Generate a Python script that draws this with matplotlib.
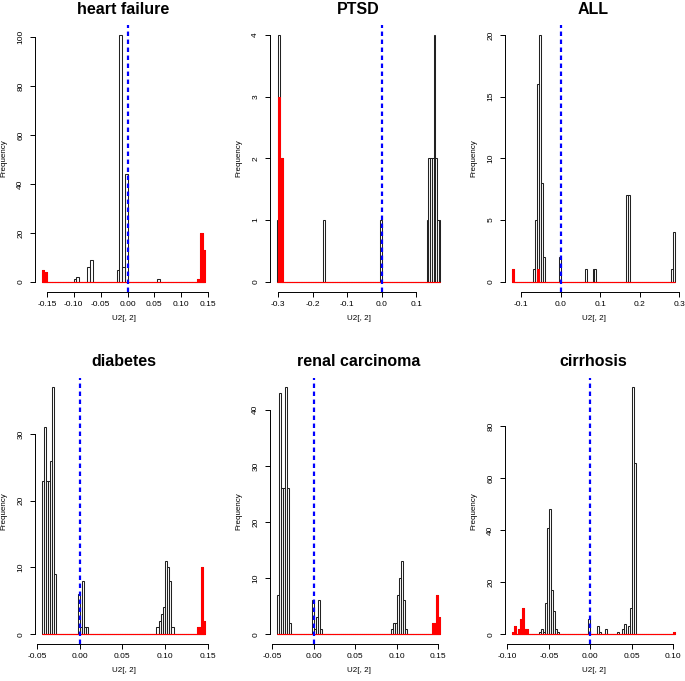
import numpy as np
import matplotlib
matplotlib.use("Agg")
import matplotlib.pyplot as plt

plt.rcParams['font.family'] = ['Liberation Sans', 'DejaVu Sans']

# ---------------- data (sparse histogram bins: left edge -> count) ----------------
titles = ["heart failure", "PTSD", "ALL", "diabetes", "renal carcinoma", "cirrhosis"]

# breaks: start, stop, width
hf_breaks = (-0.16, 0.145, 0.005)
hf_black_left = [-0.16, -0.155, -0.1, -0.095, -0.075, -0.07, -0.02, -0.015, -0.01, -0.005, 0.055, 0.13, 0.135, 0.14]
hf_black_count = [5, 4, 1, 2, 6, 9, 5, 101, 6, 44, 1, 1, 20, 13]
hf_red_left = [-0.16, -0.155, 0.13, 0.135, 0.14]
hf_red_count = [5, 4, 1, 20, 13]

ptsd_breaks = (-0.305, 0.17, 0.005)
ptsd_black_left = [-0.305, -0.3, -0.295, -0.29, -0.17, -0.005, 0.13, 0.135, 0.14, 0.145, 0.15, 0.155, 0.16, 0.165]
ptsd_black_count = [1, 4, 2, 2, 1, 1, 1, 2, 2, 2, 4, 2, 1, 1]
ptsd_red_left = [-0.3, -0.295, -0.29]
ptsd_red_count = [3, 2, 2]

all_breaks = (-0.125, 0.29, 0.005)
all_black_left = [-0.125, -0.07, -0.065, -0.06, -0.055, -0.05, -0.045, -0.005, 0.06, 0.08, 0.085, 0.165, 0.17, 0.28, 0.285]
all_black_count = [1, 1, 5, 16, 20, 8, 2, 2, 1, 1, 1, 7, 7, 1, 4]
all_red_left = [-0.125, -0.06]
all_red_count = [1, 1]

dia_breaks = (-0.045, 0.1475, 0.0025)
dia_black_left = [-0.045, -0.0425, -0.04, -0.0375, -0.035, -0.0325, -0.03,
                  -0.0025, 0.0, 0.0025, 0.005, 0.0075,
                  0.09, 0.0925, 0.095, 0.0975, 0.1, 0.1025, 0.105, 0.1075,
                  0.1375, 0.14, 0.1425, 0.145]
dia_black_count = [23, 31, 23, 23, 26, 37, 9,
                   6, 1, 8, 1, 1,
                   1, 2, 3, 4, 11, 10, 8, 1,
                   1, 1, 10, 2]
dia_red_left = [0.1375, 0.14, 0.1425, 0.145]
dia_red_count = [1, 1, 10, 2]

ren_breaks = (-0.045, 0.1525, 0.0025)
ren_black_left = [-0.045, -0.0425, -0.04, -0.0375, -0.035, -0.0325, -0.03,
                  -0.0025, 0.0, 0.0025, 0.005, 0.0075,
                  0.0925, 0.095, 0.0975, 0.1, 0.1025, 0.105, 0.1075, 0.11,
                  0.1425, 0.145, 0.1475, 0.15]
ren_black_count = [7, 43, 26, 26, 44, 26, 2,
                   6, 1, 3, 6, 1,
                   1, 2, 2, 7, 10, 13, 6, 1,
                   2, 2, 7, 3]
ren_red_left = [0.1425, 0.145, 0.1475, 0.15]
ren_red_count = [2, 2, 7, 3]

cir_breaks = (-0.095, 0.1025, 0.0025)
cir_black_left = [-0.095, -0.0925, -0.0875, -0.085, -0.0825, -0.08, -0.0775,
                  -0.0625, -0.06, -0.0575, -0.055, -0.0525, -0.05, -0.0475, -0.045, -0.0425, -0.04,
                  -0.0025, 0.0075, 0.01, 0.0175,
                  0.0325, 0.0375, 0.04, 0.045, 0.0475, 0.05, 0.0525, 0.1]
cir_black_count = [1, 3, 2, 6, 10, 2, 2,
                   1, 2, 1, 12, 41, 48, 17, 9, 2, 1,
                   6, 3, 1, 2,
                   1, 2, 4, 3, 10, 95, 66, 1]
cir_red_left = [-0.095, -0.0925, -0.0875, -0.085, -0.0825, -0.08, -0.0775, 0.1]
cir_red_count = [1, 3, 2, 6, 10, 2, 2, 1]

# axis ticks
x_ticks = [
    [-0.15, -0.10, -0.05, 0.00, 0.05, 0.10, 0.15],
    [-0.3, -0.2, -0.1, 0.0, 0.1],
    [-0.1, 0.0, 0.1, 0.2, 0.3],
    [-0.05, 0.00, 0.05, 0.10, 0.15],
    [-0.05, 0.00, 0.05, 0.10, 0.15],
    [-0.10, -0.05, 0.00, 0.05, 0.10],
]
x_labels = [
    ["-0.15", "-0.10", "-0.05", "0.00", "0.05", "0.10", "0.15"],
    ["-0.3", "-0.2", "-0.1", "0.0", "0.1"],
    ["-0.1", "0.0", "0.1", "0.2", "0.3"],
    ["-0.05", "0.00", "0.05", "0.10", "0.15"],
    ["-0.05", "0.00", "0.05", "0.10", "0.15"],
    ["-0.10", "-0.05", "0.00", "0.05", "0.10"],
]
y_ticks = [
    [0, 20, 40, 60, 80, 100],
    [0, 1, 2, 3, 4],
    [0, 5, 10, 15, 20],
    [0, 10, 20, 30],
    [0, 10, 20, 30, 40],
    [0, 20, 40, 60, 80],
]

panels = [
    (hf_breaks, hf_black_left, hf_black_count, hf_red_left, hf_red_count),
    (ptsd_breaks, ptsd_black_left, ptsd_black_count, ptsd_red_left, ptsd_red_count),
    (all_breaks, all_black_left, all_black_count, all_red_left, all_red_count),
    (dia_breaks, dia_black_left, dia_black_count, dia_red_left, dia_red_count),
    (ren_breaks, ren_black_left, ren_black_count, ren_red_left, ren_red_count),
    (cir_breaks, cir_black_left, cir_black_count, cir_red_left, cir_red_count),
]


def build(breaks, lefts, counts):
    start, stop, w = breaks
    n = int(round((stop - start) / w))
    edges = start + w * np.arange(n + 1)
    full = np.zeros(n)
    idx = np.round((np.array(lefts) - start) / w).astype(int)
    full[idx] = counts
    return edges, full


W, H = 685, 681
fig = plt.figure(figsize=(W / 100, H / 100), dpi=100)

col_x = [35, 270, 505]
row_y = [(25, 291.6), (377.5, 644.0)]
aw = 177

for i, (br, bl, bc, rl, rc) in enumerate(panels):
    r, c = divmod(i, 3)
    y0, y1 = row_y[r]
    ax = fig.add_axes([col_x[c] / W, 1 - y1 / H, aw / W, (y1 - y0) / H])
    edges, black = build(br, bl, bc)
    _, red = build(br, rl, rc)
    w = br[2]
    ax.bar(edges[:-1], black, width=w, align='edge', fill=False,
           edgecolor='#222222', linewidth=0.75, zorder=2)
    ax.bar(edges[:-1], red, width=w, align='edge', color='red',
           edgecolor='red', linewidth=0.75, zorder=3)
    ax.hlines(0, edges[0], edges[-1], color='red', linewidth=0.8, zorder=3)
    ax.axvline(0, color='#0000FF', linewidth=1.6, dashes=(2.0, 1.6), zorder=4)

    xr = edges[-1] - edges[0]
    ax.set_xlim(edges[0] - 0.04 * xr, edges[-1] + 0.04 * xr)
    ymax = black.max()
    ax.set_ylim(-0.04 * ymax, ymax * 1.04)

    for s in ['top', 'right']:
        ax.spines[s].set_visible(False)
    ax.spines['left'].set_bounds(y_ticks[i][0], y_ticks[i][-1])
    ax.spines['bottom'].set_bounds(x_ticks[i][0], x_ticks[i][-1])
    for s in ['left', 'bottom']:
        ax.spines[s].set_linewidth(0.7)

    ax.set_xticks(x_ticks[i])
    ax.set_xticklabels(x_labels[i])
    ax.set_yticks(y_ticks[i])
    ax.set_yticklabels([str(v) for v in y_ticks[i]], rotation=90, va='center')
    ax.tick_params(axis='both', length=3.3, width=0.7, labelsize=6.0, colors='black')
    ax.tick_params(axis='x', pad=3.2)
    ax.tick_params(axis='y', pad=4.4)

    ax.set_title(titles[i], fontsize=11.5, fontweight='bold', pad=8.0)
    ax.text(-31 / aw, 0.5, "Frequency", rotation=90, ha='center', va='center',
            fontsize=5.8, transform=ax.transAxes)
    ax.text(0.5, -27 / (y1 - y0), "U2[, 2]", ha='center', va='center',
            fontsize=5.8, transform=ax.transAxes)

fig.savefig("out.png", dpi=100)
